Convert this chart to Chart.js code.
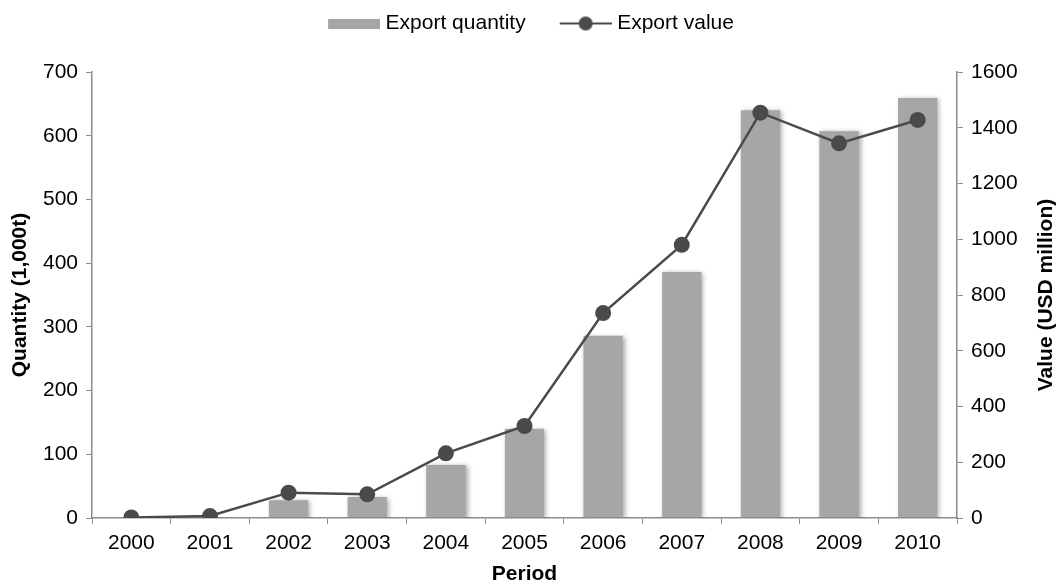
<!DOCTYPE html>
<html>
<head>
<meta charset="utf-8">
<script src="https://cdn.jsdelivr.net/npm/chart.js@4.4.1/dist/chart.umd.min.js"></script>
<style>
  html, body { margin: 0; padding: 0; background: #fff; }
  #wrap { width: 1057px; height: 586px; position: relative; }
</style>
</head>
<body>
<div id="wrap"><canvas id="chart"></canvas></div>
<script>
const years = ['2000', '2001', '2002', '2003', '2004', '2005', '2006', '2007', '2008', '2009', '2010'];
const exportQuantity = [0, 0, 28, 33, 83, 140, 286, 386, 640, 607, 659];
const exportValue = [2, 7, 91, 85, 232, 330, 735, 980, 1454, 1344, 1428];
const quantityTicks = [0, 100, 200, 300, 400, 500, 600, 700];
const valueTicks = [0, 200, 400, 600, 800, 1000, 1200, 1400, 1600];

const FONT = '"Liberation Sans", Arial, sans-serif';
Chart.defaults.font.family = FONT;
Chart.defaults.font.size = 21;
Chart.defaults.color = '#000';

// legend icons: 62px canvas, graphic on the right 52px so the text sits close
function makeBarIcon() {
    const c = document.createElement('canvas');
    c.width = 62; c.height = 10;
    const g = c.getContext('2d');
    g.fillStyle = '#a6a6a6';
    g.fillRect(10, 0, 52, 10);
    return c;
}
function makeLineIcon() {
    const c = document.createElement('canvas');
    c.width = 62; c.height = 16;
    const g = c.getContext('2d');
    g.strokeStyle = '#4a4a4a';
    g.lineWidth = 2;
    g.beginPath(); g.moveTo(10, 8); g.lineTo(62, 8); g.stroke();
    g.fillStyle = '#4a4a4a';
    g.beginPath(); g.arc(36, 8, 7, 0, Math.PI * 2); g.fill();
    return c;
}

// soft shadow behind the bars
const barShadow = {
    id: 'barShadow',
    beforeDatasetDraw(chart, args) {
        if (args.meta.type !== 'bar') return;
        const ctx = chart.ctx;
        ctx.save();
        ctx.shadowColor = 'rgba(0,0,0,0.35)';
        ctx.shadowBlur = 5;
        ctx.shadowOffsetX = 2;
        ctx.shadowOffsetY = 1;
    },
    afterDatasetDraw(chart, args) {
        if (args.meta.type !== 'bar') return;
        chart.ctx.restore();
    }
};

// legend block height fixed, row pulled up
const legendGap = {
    id: 'legendGap',
    beforeInit(chart) {
        const fit = chart.legend.fit;
        chart.legend.fit = function () {
            fit.call(this);
            this.height = 72;
        };
    },
    afterLayout(chart) {
        chart.legend.top -= 16;
        chart.legend.bottom -= 16;
    }
};

// right axis title reads bottom-to-top like the left one
const rightTitle = {
    id: 'rightTitle',
    afterDraw(chart) {
        const s = chart.scales.y2;
        const ctx = chart.ctx;
        ctx.save();
        ctx.translate(1046, (s.top + s.bottom) / 2);
        ctx.rotate(-Math.PI / 2);
        ctx.font = 'bold 21px ' + FONT;
        ctx.fillStyle = '#000';
        ctx.textAlign = 'center';
        ctx.textBaseline = 'middle';
        ctx.fillText('Value (USD million)', 0, 0);
        ctx.restore();
    }
};

const axisColor = '#8c8c8c';

new Chart(document.getElementById('chart'), {
    data: {
        labels: years,
        datasets: [
            {
                type: 'line',
                label: 'Export value',
                data: exportValue,
                yAxisID: 'y2',
                borderColor: '#4a4a4a',
                borderWidth: 2.5,
                pointRadius: 8,
                pointHoverRadius: 8,
                pointBackgroundColor: '#4a4a4a',
                pointBorderColor: '#4a4a4a',
                pointBorderWidth: 0,
                tension: 0,
                order: 0
            },
            {
                type: 'bar',
                label: 'Export quantity',
                data: exportQuantity,
                yAxisID: 'y',
                backgroundColor: '#a6a6a6',
                barPercentage: 0.5,
                categoryPercentage: 1.0,
                order: 1
            }
        ]
    },
    options: {
        responsive: true,
        maintainAspectRatio: false,
        animation: false,
        layout: { padding: 0 },
        plugins: {
            tooltip: { enabled: false },
            legend: {
                position: 'top',
                labels: {
                    usePointStyle: true,
                    pointStyleWidth: 52,
                    padding: 29,
                    font: { size: 21 },
                    color: '#000',
                    generateLabels() {
                        return [
                            { text: 'Export quantity', pointStyle: makeBarIcon(), datasetIndex: 1, lineWidth: 0, hidden: false },
                            { text: 'Export value', pointStyle: makeLineIcon(), datasetIndex: 0, lineWidth: 0, hidden: false }
                        ];
                    }
                }
            }
        },
        scales: {
            x: {
                offset: true,
                grid: { display: true, drawOnChartArea: false, drawTicks: true, tickLength: 6, color: axisColor, offset: true },
                border: { display: true, color: axisColor, width: 1.5 },
                ticks: { color: '#000', padding: 7, maxRotation: 0 },
                title: { display: true, text: 'Period', font: { size: 21, weight: 'bold' }, color: '#000', padding: { top: 0, bottom: -1 } },
                afterFit(scale) { scale.height = 68; }
            },
            y: {
                position: 'left',
                min: 0,
                max: 700,
                afterBuildTicks(scale) { scale.ticks = quantityTicks.map(v => ({ value: v })); },
                grid: { display: true, drawOnChartArea: false, drawTicks: true, tickLength: 6, color: axisColor },
                border: { display: true, color: axisColor, width: 1.5 },
                ticks: { color: '#000', padding: 8, callback: v => String(v) },
                title: { display: true, text: 'Quantity (1,000t)', font: { size: 21, weight: 'bold' }, color: '#000', padding: { top: 8, bottom: 4 } },
                afterFit(scale) { scale.width = 92; }
            },
            y2: {
                position: 'right',
                min: 0,
                max: 1600,
                afterBuildTicks(scale) { scale.ticks = valueTicks.map(v => ({ value: v })); },
                grid: { display: true, drawOnChartArea: false, drawTicks: true, tickLength: 6, color: axisColor },
                border: { display: true, color: axisColor, width: 1.5 },
                ticks: { color: '#000', padding: 8, callback: v => String(v) },
                afterFit(scale) { scale.width = 100; }
            }
        }
    },
    plugins: [barShadow, legendGap, rightTitle]
});
</script>
</body>
</html>
